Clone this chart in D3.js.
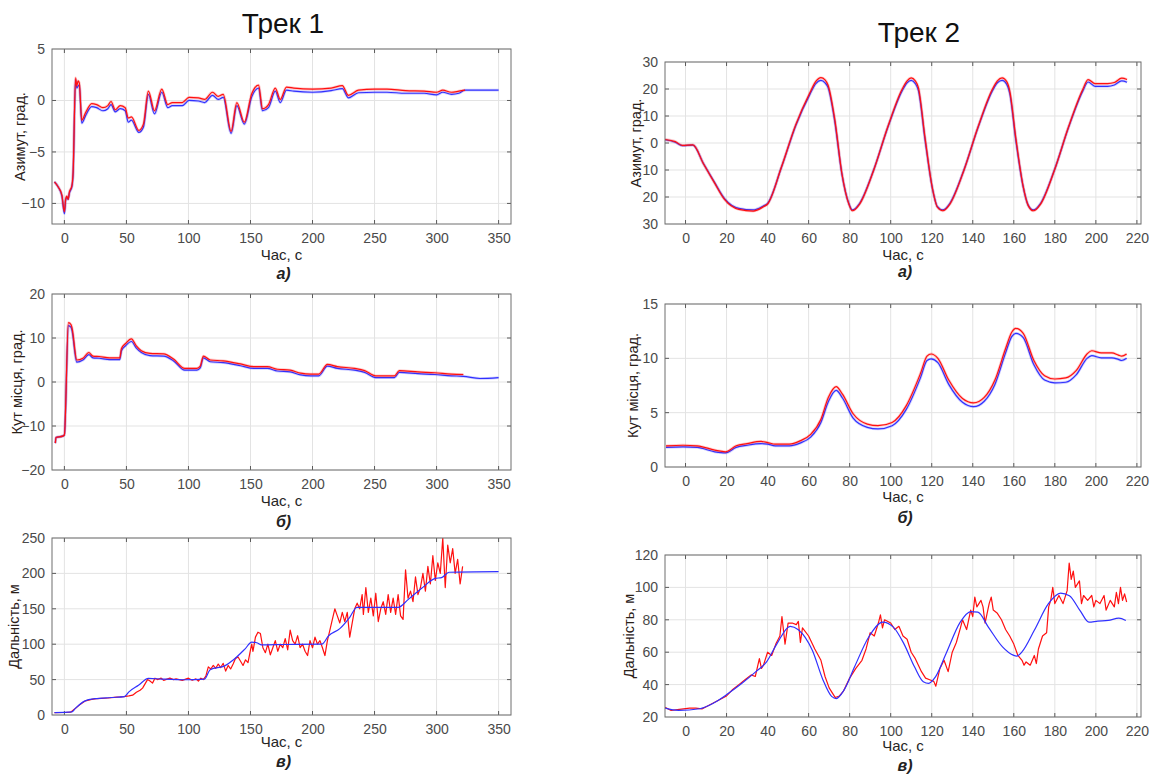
<!DOCTYPE html>
<html><head><meta charset="utf-8">
<script src="https://cdn.jsdelivr.net/npm/d3@7"></script>
<style>body{margin:0;background:#fff}svg{display:block}</style>
</head><body>
<svg id="c" width="1156" height="774"></svg>
<script>
// ---------- Track 1 ----------
const track1XTicks = [0,50,100,150,200,250,300,350];
const az1Ticks = [-10,-5,0,5];
const el1Ticks = [-20,-10,0,10,20];
const rng1Ticks = [0,50,100,150,200,250];

const az1RedT = [-8,-5,-2,0,1,2,3,4,6,7,9,10,11,12,14,17,22,26,31,35,37.6,41,45,49,51.5,54,60,63.7,67.7,72.6,78.5,83.3,87,95,100.5,108,113,119.4,124,128,134.4,139,145,151,156.5,159.7,164.5,170,174,179,185,200,215,224,229,237,250,260,275,290,300,305,312,318,323];
const az1Red = [-7.9,-8.4,-9.2,-10.8,-9.6,-9.3,-9.6,-8.9,-8.3,-7.0,2.2,1.4,1.9,1.7,-1.9,-1.2,-0.3,-0.4,-0.7,-0.5,-0.1,-0.9,-0.5,-0.7,-1.7,-1.6,-2.9,-2.3,0.9,-1.0,1.1,-0.4,-0.2,-0.2,0.3,0.25,0.1,0.8,0.4,0.6,-3.0,-0.2,-2.1,0.65,1.5,-0.8,-0.4,1.2,0.1,1.3,1.2,1.1,1.2,1.45,0.5,1.0,1.1,1.1,0.95,0.9,0.8,1.0,0.8,0.9,1.0];
const az1BlueT = [-8,-5,-2,0,1,2,3,4,6,7,9,10,11,12,14,17,22,26,31,35,37.6,41,45,49,51.5,54,60,63.7,67.7,72.6,78.5,83.3,87,95,100.5,108,113,119.4,124,128,134.4,139,145,151,156.5,159.7,164.5,170,174,179,185,200,215,224,229,237,250,260,275,290,300,305,312,318,323,330,350];
const az1Blue = [-7.9,-8.4,-9.3,-11.0,-9.7,-9.4,-9.6,-9.0,-8.4,-7.2,2.0,1.2,1.4,1.5,-2.2,-1.5,-0.6,-0.7,-1.0,-0.8,-0.4,-1.1,-0.8,-1.0,-2.1,-1.9,-3.1,-2.6,0.6,-1.3,0.8,-0.7,-0.5,-0.5,0.0,-0.05,-0.2,0.5,0.1,0.3,-3.2,-0.5,-2.3,0.35,1.2,-1.0,-0.7,0.9,-0.2,1.0,0.9,0.8,0.95,1.15,0.25,0.75,0.8,0.8,0.7,0.7,0.55,0.8,0.6,0.7,1.0,1.0,1.0];

const el1RedT = [-7.3,-6.8,-1.4,0,3.2,5.4,6.2,10,14.9,19.7,23,28,36.5,44.6,46,49.5,54,58,62,69,80,88,97,106.8,109.5,112,117.6,128,142,152.7,163.5,171.6,182,190.5,198.6,205,212,220,233.8,242,251,266,270,285,298.6,312,321.6];
const el1Red = [-13.9,-12.6,-12.3,-12.0,13.5,13.0,12.2,5.0,5.4,6.7,5.9,5.8,5.5,5.5,7.6,8.8,9.8,8.2,7.1,6.5,6.4,5.2,3.1,3.1,3.6,5.9,5.0,4.8,4.1,3.5,3.5,2.9,2.7,2.0,1.8,1.8,4.0,3.5,3.1,2.6,1.4,1.4,2.6,2.3,2.1,1.8,1.7];
const el1BlueT = [-7.3,-6.8,-1.4,0,3.2,5.4,6.2,10,14.9,19.7,23,28,36.5,44.6,46,49.5,54,58,62,69,80,88,97,106.8,109.5,112,117.6,128,142,152.7,163.5,171.6,182,190.5,198.6,205,212,220,233.8,242,251,266,270,285,298.6,312,321.6,335,350];
const el1Blue = [-13.9,-12.6,-12.3,-12.0,12.8,12.4,11.6,4.5,5.0,6.2,5.5,5.4,5.1,5.1,7.1,8.3,9.2,7.7,6.7,6.0,5.9,4.8,2.7,2.7,3.2,5.5,4.6,4.4,3.7,3.1,3.1,2.5,2.3,1.6,1.4,1.4,3.6,3.1,2.7,2.2,1.0,1.0,2.2,1.9,1.7,1.4,1.3,0.8,1.0];

const rng1BlueT = [-8,6,8.6,16.7,24.7,38,48.4,52,59.7,67.7,78.5,97,113,117.5,129.6,136.3,145.7,151,155,159,178,207.5,213,222,230,235.8,269,277,288,299,304,310,350];
const rng1Blue = [3.3,4.3,9,20,23,24.7,26,32.7,42,51.7,50.8,49.8,50.8,64,69.7,78,93.5,103,102,99,99.6,100,112,122,138,152,152,163,179,193,194,201.6,202.5];
const rng1RedT = [-8,0,5,8,12,17,22,26,30,35,40,45,48,52,55,58,61,63,65,67,69,71,73,75,78,80,85,88,90,95,100,103,106,108,110,112,114,116,118,120,122,124,126,128,130,132,134,136,138,140,142,144,146,148,150,151,152,154,156,158,159,160,162,164,166,168,170,172,174,176,178,180,182,184,186,188,190,192,194,196,198,200,202,204,206,208,210,212,214,216,218,220,222,224,226,228,230,232,234,236,238,240,241,243,245,247,249,251,253,255,257,259,261,263,265,267,269,271,273,275,277,279,281,283,285,287,289,291,293,295,297,299,301,303,305,307,309,311,313,315,317,319,321];
const rng1Red = [3.3,3.5,4,8,14,20,22,23,23.5,24,25,25.5,26,27,28,32,35,38,44,50,48,45,52,50,52,49,52,50,51,49,52,49,51,48,52,50,55,68,65,70,66,72,67,73,62,70,65,72,80,82,76,70,78,74,92,100,90,110,117,115,105,95,88,100,85,95,105,90,100,95,108,92,120,105,100,112,95,100,90,84,105,95,110,100,105,95,84,105,120,135,150,140,130,145,132,145,110,130,150,158,150,170,142,180,145,165,140,172,132,150,160,142,170,145,165,142,170,140,135,205,165,175,160,195,170,180,200,175,210,185,225,190,215,200,250,180,240,215,235,200,220,185,210];

// ---------- Track 2 ----------
const track2XTicks = [0,20,40,60,80,100,120,140,160,180,200,220];
const az2Ticks = [-30,-20,-10,0,10,20,30];
const az2TickLabels = ["30","20","10","0","10","20","30"];
const el2Ticks = [0,5,10,15];
const rng2Ticks = [20,40,60,80,100,120];

const az2T = [-10,-5,-1.6,3.6,8.8,14,19,26,33,38,40,46.8,53.7,60.6,63.5,66,68,69.5,72.7,76.2,79.6,81.3,84.8,91.7,98.6,105.5,108,110,112,113.5,116.8,120.2,122.8,125.4,128.8,135.7,142.6,149.5,152,154.3,156.5,158,161,164.5,167,169.5,173,179.8,186.7,193.6,196.2,199.6,205.7,209,212.6,215.2];
const az2Blue = [1.2,0.3,-1.0,-0.8,-7.7,-14.4,-20.6,-24.2,-24.8,-23.3,-22.4,-8.9,6.4,18,22,23.2,22.3,20.5,8.2,-11.4,-22.4,-24.8,-22.4,-10,5.8,19.2,22.3,23.2,22,19.5,0.9,-16.3,-23.6,-24.8,-22.4,-10,5.8,19.2,22.3,23.2,21.8,18.5,1,-16,-23,-24.8,-22.4,-10,5.8,19.2,22.6,21,21,21.5,23,22.5];
const az2Red = [1.3,0.5,-0.9,-0.7,-7.8,-14.6,-20.9,-24.6,-25.2,-23.6,-22.6,-8.8,6.7,18.6,22.8,24.2,23.4,21.4,9.0,-11.2,-22.6,-25.1,-22.7,-10.1,6.0,19.8,23.0,24.1,23.0,20.5,1.6,-16.2,-23.8,-25.1,-22.7,-10.1,6.0,19.8,23.0,24.1,22.8,19.4,1.8,-15.8,-23.1,-25.1,-22.7,-10.1,6.0,19.8,23.5,22,22,22.4,24,23.5];

const el2T = [-9.5,-1.2,5.7,14.3,19.5,24.7,30,36.8,40,43.7,50.6,55.8,61,66,69.6,73.4,76.5,81.7,88.6,93.8,100.7,107.6,114.5,117.7,119.7,123,128.3,135,140.4,145.6,150.8,156,159,161,164.6,169.8,175,180,185.3,190.5,195.7,198,202.6,207.8,211,212.6,215];
const el2Red = [1.95,2.0,1.95,1.55,1.4,1.95,2.15,2.35,2.25,2.1,2.1,2.4,3.0,4.4,6.4,7.4,6.7,4.9,3.95,3.8,4.1,5.65,8.6,10.2,10.4,10.0,8.0,6.3,5.9,6.4,8.0,10.9,12.4,12.75,12.3,9.8,8.4,8.1,8.2,8.9,10.4,10.7,10.5,10.5,10.3,10.2,10.4];
const el2Blue = [1.8,1.85,1.8,1.4,1.3,1.8,2.0,2.15,2.1,1.95,1.95,2.2,2.75,4.1,6.0,7.05,6.35,4.5,3.65,3.5,3.8,5.3,8.2,9.8,9.95,9.6,7.6,5.95,5.55,6.05,7.6,10.5,12.0,12.3,11.9,9.4,8.0,7.75,7.8,8.5,10.0,10.25,10.05,10.05,9.9,9.8,10.0];

const rng2BlueT = [-10,-3.4,6.9,13.7,20.6,27.5,34.3,39.5,44.6,51,55,61.8,67,71.2,73.5,77.3,82.4,89.3,96.1,101.3,106.4,111.6,115.9,118.5,121.9,127,133.9,139,142.5,147.6,154.5,159.7,161.5,164,170,176.8,182.8,187.1,192.3,196.6,200.9,206,211.2,214.6];
const rng2Blue = [25.5,24.1,25.1,28.6,34.3,40.8,48,54,65.3,76,73.9,61.2,42.9,32.7,31.4,36.7,51,69.4,78.6,75.5,65.3,51,41.8,40.8,44.9,59.2,78.6,85.1,84.7,75.5,63.3,58.2,57.6,60.2,73.5,89.8,96.5,94.9,85.7,78.6,79.2,79.6,81,79.6];
const rng2RedT = [-10,-7,-4,-1,2,5,8,11,14,17,20,23,26,29,32,34,36,37,38,40,42,44,46,47,48.5,50,52,54,55,56,57,60,63,66,68,70,72,73,75,77,80,83,86,88,90,92,94,95,96,97,100,102,104,106,108,110,112,115,117,119,121,122,124,126,128,130,132,134,135,137,139,140,141,142,144,145,146,148,149,150,152,154,156,158,160,162,164,165,166,168,170,171,172,174,176,177,178,179,180,182,184,186,187,188,189,190,192,193,194,196,198,199,200,202,204,205,207,209,210,211,212,213,214,215];
const rng2Red = [26,24,24.5,25,25.5,25.5,25,27,29,31,33,37,40,43,46,45,56,50,52,60,58,65,70,82,65,78,78,77,79,66,75,70,62,55,45,38,34,32,33,36,44,50,55,62,72,70,78,83,75,80,78,74,76,70,68,60,56,48,44,43,42,39,50,55,48,60,66,75,80,74,86,82,94,88,92,88,78,90,94,86,84,80,74,70,65,58,55,52,54,52,58,53,62,70,72,88,92,100,90,95,90,98,115,105,110,100,104,90,95,92,95,88,92,90,95,86,92,88,97,90,100,92,96,91];

// ---------- drawing ----------
const svg = d3.select("#c");
const FONT = "Liberation Sans, Arial, sans-serif";

svg.append("text").attr("x",283).attr("y",33).attr("text-anchor","middle")
  .attr("font-family",FONT).attr("font-size",28).attr("fill","#111").text("Трек 1");
svg.append("text").attr("x",919).attr("y",42).attr("text-anchor","middle")
  .attr("font-family",FONT).attr("font-size",28).attr("fill","#111").text("Трек 2");

function panel(o){
  const x = d3.scaleLinear().domain(o.xDom).range([o.x0,o.x1]);
  const y = d3.scaleLinear().domain(o.yDom).range([o.y1,o.y0]);
  const g = svg.append("g");
  g.append("rect").attr("x",o.x0).attr("y",o.y0).attr("width",o.x1-o.x0).attr("height",o.y1-o.y0).attr("fill","#fff");
  o.xTicks.forEach(t=>{ g.append("line").attr("x1",x(t)).attr("x2",x(t)).attr("y1",o.y0).attr("y2",o.y1).attr("stroke","#e3e3e3").attr("stroke-width",1);});
  o.yTicks.forEach(t=>{ g.append("line").attr("y1",y(t)).attr("y2",y(t)).attr("x1",o.x0).attr("x2",o.x1).attr("stroke","#e3e3e3").attr("stroke-width",1);});
  const ax = d3.axisBottom(x).tickValues(o.xTicks).tickSize(0).tickPadding(9);
  const ay = d3.axisLeft(y).tickValues(o.yTicks).tickSize(0).tickPadding(7);
  if(o.yLabels) ay.tickFormat((d,i)=>o.yLabels[i]);
  const gx = g.append("g").attr("transform",`translate(0,${o.y1})`).call(ax);
  const gy = g.append("g").attr("transform",`translate(${o.x0},0)`).call(ay);
  [gx,gy].forEach(a=>{a.select(".domain").remove(); a.selectAll("text").attr("font-family",FONT).attr("font-size",14).attr("fill","#4a4a4a");});
  o.xTicks.forEach(t=>{ if(x(t)>o.x0+1 && x(t)<o.x1-1){
    g.append("line").attr("x1",x(t)).attr("x2",x(t)).attr("y1",o.y1).attr("y2",o.y1-4).attr("stroke","#5a5a5a");
    g.append("line").attr("x1",x(t)).attr("x2",x(t)).attr("y1",o.y0).attr("y2",o.y0+4).attr("stroke","#5a5a5a");}});
  o.yTicks.forEach(t=>{ if(y(t)>o.y0+1 && y(t)<o.y1-1){
    g.append("line").attr("y1",y(t)).attr("y2",y(t)).attr("x1",o.x0).attr("x2",o.x0+4).attr("stroke","#5a5a5a");
    g.append("line").attr("y1",y(t)).attr("y2",y(t)).attr("x1",o.x1).attr("x2",o.x1-4).attr("stroke","#5a5a5a");}});
  const clipId = "clip"+o.id;
  svg.append("clipPath").attr("id",clipId).append("rect").attr("x",o.x0).attr("y",o.y0).attr("width",o.x1-o.x0).attr("height",o.y1-o.y0);
  o.series.forEach(s=>{
    const line = d3.line().x(d=>x(d[0])).y(d=>y(d[1])).curve(s.smooth ? d3.curveMonotoneX : d3.curveLinear);
    const pts = s.t.map((t,i)=>[t,s.v[i]]);
    if(s.halo) g.append("path").attr("d",line(pts)).attr("fill","none").attr("stroke",s.color).attr("stroke-width",2.8).attr("stroke-opacity",0.22).attr("clip-path",`url(#${clipId})`);
    g.append("path").attr("d",line(pts)).attr("fill","none").attr("stroke",s.color).attr("stroke-width",s.w||1.2).attr("stroke-linejoin","round").attr("clip-path",`url(#${clipId})`);
  });
  g.append("rect").attr("x",o.x0).attr("y",o.y0).attr("width",o.x1-o.x0).attr("height",o.y1-o.y0).attr("fill","none").attr("stroke","#6e6e6e").attr("stroke-width",1);
  const cx = (o.x0+o.x1)/2;
  g.append("text").attr("x",cx).attr("y",o.xLabY).attr("text-anchor","middle").attr("dominant-baseline","middle")
    .attr("font-family",FONT).attr("font-size",15).attr("fill","#262626").text("Час, с");
  g.append("text").attr("x",cx+2).attr("y",o.subY).attr("text-anchor","middle").attr("dominant-baseline","middle")
    .attr("font-family",FONT).attr("font-size",16).attr("font-style","italic").attr("font-weight","bold").attr("fill","#222").text(o.sub);
  g.append("text").attr("transform",`translate(${o.yLabX},${(o.y0+o.y1)/2}) rotate(-90)`).attr("text-anchor","middle").attr("dominant-baseline","middle")
    .attr("font-family",FONT).attr("font-size",14.5).attr("fill","#2a2018").text(o.yLab);
}

const RED = "#ff1010", BLUE = "#3030ff";
panel({id:1,x0:52,x1:511,y0:49,y1:224,xDom:[-10,360],yDom:[-12,5],xTicks:track1XTicks,yTicks:az1Ticks,
  xLabY:256,subY:275,sub:"а)",yLab:"Азимут, град.",yLabX:21,
  series:[{t:az1BlueT,v:az1Blue,color:BLUE,halo:true,smooth:true},{t:az1RedT,v:az1Red,color:RED,halo:true,smooth:true}]});
panel({id:2,x0:52,x1:511,y0:294,y1:470,xDom:[-10,360],yDom:[-20,20],xTicks:track1XTicks,yTicks:el1Ticks,
  xLabY:502,subY:523,sub:"б)",yLab:"Кут місця, град.",yLabX:18,
  series:[{t:el1BlueT,v:el1Blue,color:BLUE,halo:true,smooth:true},{t:el1RedT,v:el1Red,color:RED,halo:true,smooth:true}]});
panel({id:3,x0:52,x1:511,y0:538,y1:715,xDom:[-10,360],yDom:[0,250],xTicks:track1XTicks,yTicks:rng1Ticks,
  xLabY:743,subY:763,sub:"в)",yLab:"Дальність, м",yLabX:15,
  series:[{t:rng1RedT,v:rng1Red,color:RED},{t:rng1BlueT,v:rng1Blue,color:BLUE,smooth:true}]});
panel({id:4,x0:665,x1:1141,y0:62,y1:224,xDom:[-10,222],yDom:[-30,30],xTicks:track2XTicks,yTicks:az2Ticks,yLabels:az2TickLabels,
  xLabY:256,subY:273,sub:"а)",yLab:"Азимут, град.",yLabX:637,
  series:[{t:az2T,v:az2Blue,color:BLUE,halo:true,smooth:true},{t:az2T,v:az2Red,color:RED,halo:true,smooth:true}]});
panel({id:5,x0:665,x1:1141,y0:304,y1:467,xDom:[-10,222],yDom:[0,15],xTicks:track2XTicks,yTicks:el2Ticks,
  xLabY:498,subY:519,sub:"б)",yLab:"Кут місця, град.",yLabX:634,
  series:[{t:el2T,v:el2Blue,color:BLUE,halo:true,smooth:true},{t:el2T,v:el2Red,color:RED,halo:true,smooth:true}]});
panel({id:6,x0:665,x1:1141,y0:555,y1:717,xDom:[-10,222],yDom:[20,120],xTicks:track2XTicks,yTicks:rng2Ticks,
  xLabY:747,subY:767,sub:"в)",yLab:"Дальність, м",yLabX:630,
  series:[{t:rng2RedT,v:rng2Red,color:RED},{t:rng2BlueT,v:rng2Blue,color:BLUE,smooth:true}]});
</script>
</body></html>
